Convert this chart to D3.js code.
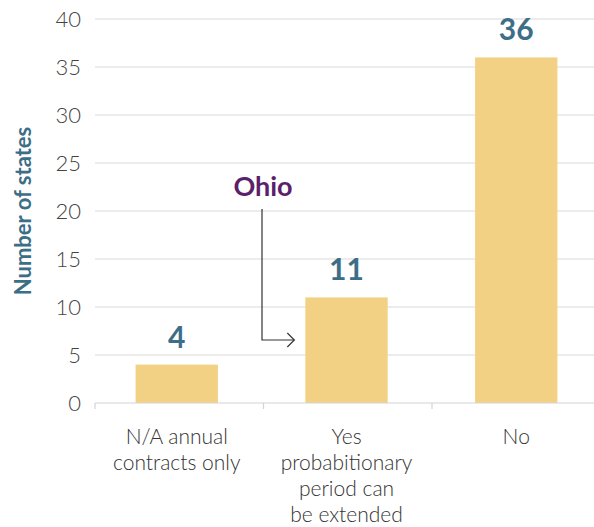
<!DOCTYPE html>
<html>
<head>
<meta charset="utf-8">
<script src="https://cdn.jsdelivr.net/npm/d3@7"></script>
<style>
  html, body { margin: 0; padding: 0; background: #fff; }
  svg { display: block; font-family: "Lato", "Open Sans", sans-serif; }
</style>
</head>
<body>
<svg id="chart" width="594" height="527"></svg>
<script>
// Probationary period extension by state
const categories = ["N/A annual contracts only", "Yes probabitionary period can be extended", "No"];
const categoryLines = [["N/A annual", "contracts only"], ["Yes", "probabitionary", "period can", "be extended"], ["No"]];
const values = [4, 11, 36];
const yTicks = [0, 5, 10, 15, 20, 25, 30, 35, 40];
const yTitle = "Number of states";
const calloutLabel = "Ohio";
const calloutCategory = "Yes probabitionary period can be extended";

const svg = d3.select("#chart");
const margin = { left: 95, right: -6, top: 19, bottom: 124 };
const W = 594, H = 527;

const x = d3.scaleBand().domain(categories)
  .range([margin.left, W - margin.right]).paddingInner(0.515).paddingOuter(0.245);
const y = d3.scaleLinear().domain([0, 40]).range([H - margin.bottom, margin.top]);

// Gridlines
svg.append("g").selectAll("line").data(yTicks.filter(d => d > 0)).join("line")
  .attr("x1", margin.left).attr("x2", W)
  .attr("y1", d => y(d)).attr("y2", d => y(d))
  .attr("stroke", "#d9d9d9").attr("stroke-width", 1.2);

// Y axis tick labels
const yAxis = d3.axisLeft(y).tickValues(yTicks).tickSize(0).tickPadding(14);
const gy = svg.append("g").attr("transform", `translate(${margin.left},0)`).call(yAxis);
gy.select(".domain").remove();
gy.selectAll("text").attr("font-size", 22).attr("font-weight", 300)
  .attr("fill", "#444").attr("font-family", "Lato, sans-serif");

// Bars
const shift = -1;
svg.append("g").selectAll("rect").data(values).join("rect")
  .attr("x", (d, i) => x(categories[i]) + shift)
  .attr("width", x.bandwidth())
  .attr("y", d => y(d))
  .attr("height", d => y(0) - y(d))
  .attr("fill", "#f2d184");

// X axis baseline with category dividers
const y0 = y(0);
svg.append("line").attr("x1", margin.left).attr("x2", W).attr("y1", y0).attr("y2", y0)
  .attr("stroke", "#d4d4d4").attr("stroke-width", 1.2);
svg.append("g").selectAll("line").data(categories).join("line")
  .attr("x1", (c, i) => margin.left + i * 168.5).attr("x2", (c, i) => margin.left + i * 168.5)
  .attr("y1", y0).attr("y2", y0 + 6)
  .attr("stroke", "#d4d4d4").attr("stroke-width", 1.2);

// Category labels
const catG = svg.append("g");
categories.forEach((c, i) => {
  const cx = x(c) + x.bandwidth() / 2 + shift;
  const t = catG.append("text").attr("text-anchor", "middle")
    .attr("font-size", 21).attr("font-weight", 300).attr("fill", "#333");
  categoryLines[i].forEach((ln, j) => {
    t.append("tspan").attr("x", cx).attr("y", 444 + j * 26).text(ln);
  });
});

// Value labels
svg.append("g").selectAll("text").data(values).join("text")
  .attr("x", (d, i) => x(categories[i]) + x.bandwidth() / 2 + shift)
  .attr("y", d => y(d) - 17)
  .attr("text-anchor", "middle")
  .attr("font-size", 30).attr("font-weight", 700)
  .attr("fill", "#3d6e87")
  .text(d => d);

// Y axis title
svg.append("text")
  .attr("transform", `translate(31,${(y(0) + y(40)) / 2}) rotate(-90)`)
  .attr("text-anchor", "middle")
  .attr("font-size", 22).attr("font-weight", 700).attr("fill", "#3d6e87")
  .text(yTitle);

// Callout with elbow arrow
const arrowX = 262, arrowTop = 209, arrowY = 340;
const barLeft = x(calloutCategory) + shift;
svg.append("text").attr("x", 263).attr("y", 196).attr("text-anchor", "middle")
  .attr("font-size", 27).attr("font-weight", 700).attr("fill", "#5c1f6b")
  .text(calloutLabel);
const arrowEnd = barLeft - 11;
svg.append("path")
  .attr("d", `M${arrowX},${arrowTop} V${arrowY} H${arrowEnd}`)
  .attr("fill", "none").attr("stroke", "#333").attr("stroke-width", 1.2);
svg.append("path")
  .attr("d", `M${arrowEnd - 7},${arrowY - 7} L${arrowEnd},${arrowY} L${arrowEnd - 7},${arrowY + 7}`)
  .attr("fill", "none").attr("stroke", "#333").attr("stroke-width", 1.2);
</script>
</body>
</html>
